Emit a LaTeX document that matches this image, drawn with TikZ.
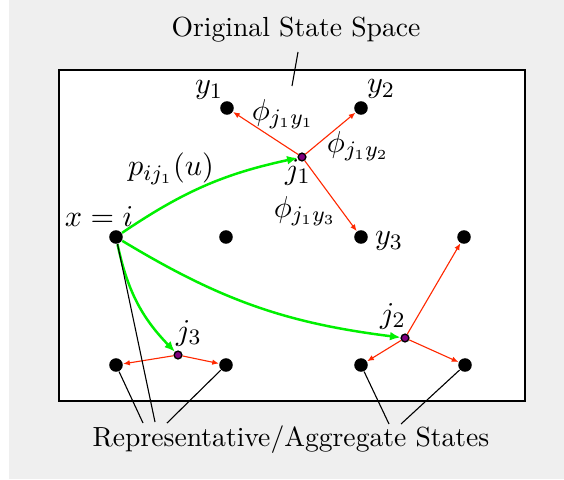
\documentclass[tikz,border=0pt]{standalone}
\usetikzlibrary{arrows.meta}
\definecolor{bggray}{RGB}{239,239,239}
\definecolor{arrred}{RGB}{255,40,0}
\definecolor{arrgreen}{RGB}{0,240,0}
\definecolor{dotpurple}{RGB}{128,0,128}
\begin{document}
\begin{tikzpicture}[x=0.362pt,y=-0.362pt,
  bigdot/.style={circle,fill=black,inner sep=0pt,minimum size=4.9pt},
  smalldot/.style={circle,fill=dotpurple,draw=black,line width=0.5pt,inner sep=0pt,minimum size=2.8pt},
  redarrow/.style={draw=arrred,line width=0.4pt,-{Latex[length=2.4pt,width=2pt]}},
  greenarrow/.style={draw=arrgreen,line width=0.9pt,-{Latex[length=3.8pt,width=3.2pt]}},
  pointer/.style={draw=black,line width=0.4pt},
  lbl/.style={inner sep=0pt},
  mlbl/.style={inner sep=0pt,font=\fontsize{11}{13}\selectfont}]
\useasboundingbox (0,0) rectangle (564,479);
\fill[bggray] (9,0) rectangle (564,479);
\draw[line width=0.85pt,fill=white] (59,70) rectangle (525,401);
% dots
\node[bigdot] (y1) at (227,108) {};
\node[bigdot] (y2) at (361,108) {};
\node[bigdot] (y3) at (361,237) {};
\node[bigdot] (xi) at (116,237) {};
\node[bigdot] (mid) at (226,237) {};
\node[bigdot] (r) at (464,237) {};
\node[bigdot] (bl) at (116,365) {};
\node[bigdot] (bm) at (226,365) {};
\node[bigdot] (br1) at (361,365) {};
\node[bigdot] (br2) at (465,365) {};
\node[smalldot] (j1) at (302,157) {};
\node[smalldot] (j2) at (405,338) {};
\node[smalldot] (j3) at (178,355) {};
% labels
\node[mlbl] (ly1) at (209,90) {$y_1$};
\node[mlbl] (ly2) at (381,89) {$y_2$};
\node[mlbl] (ly3) at (389,241) {$y_3$};
\node[mlbl] (lp1) at (283,114) {$\phi_{j_1y_1}$};
\node[mlbl] (lp2) at (358,146) {$\phi_{j_1y_2}$};
\node[mlbl] (lp3) at (305,211) {$\phi_{j_1y_3}$};
\node[mlbl] (lj1) at (298,172) {$j_1$};
\node[mlbl] (lj2) at (393,316) {$j_2$};
\node[mlbl] (lj3) at (189,333) {$j_3$};
\node[mlbl] (lx) at (99,217) {$x=i$};
\node[mlbl] (lp) at (171,169) {$p_{ij_1}(u)$};
\node[lbl] (title) at (296,30) {Original State Space};
\node[lbl] (bottom) at (291,440) {Representative/Aggregate States};
% red arrows
\draw[redarrow] (j1) -- (y1);
\draw[redarrow] (j1) -- (y2);
\draw[redarrow] (j1) -- (y3);
\draw[redarrow] (j2) -- (br1);
\draw[redarrow] (j2) -- (br2);
\draw[redarrow] (j2) -- (r);
\draw[redarrow] (j3) -- (bl);
\draw[redarrow] (j3) -- (bm);
% green arrows
\draw[greenarrow] (xi) to[bend left=11] (j1);
\draw[greenarrow] (xi) to[bend right=12] (j2);
\draw[greenarrow] (xi) to[bend right=16] (j3);
% pointers
\coordinate (t1) at (298,52);
\coordinate (t2) at (292,86);
\draw[pointer] (t1) -- (t2);
\coordinate (b1) at (143,423);
\coordinate (b2) at (155,422);
\coordinate (b3) at (167,423);
\coordinate (b4) at (389,424);
\coordinate (b5) at (401,424);
\draw[pointer] (bl) -- (b1);
\draw[pointer] (xi) -- (b2);
\draw[pointer] (bm) -- (b3);
\draw[pointer] (br1) -- (b4);
\draw[pointer] (br2) -- (b5);
\end{tikzpicture}
\end{document}
